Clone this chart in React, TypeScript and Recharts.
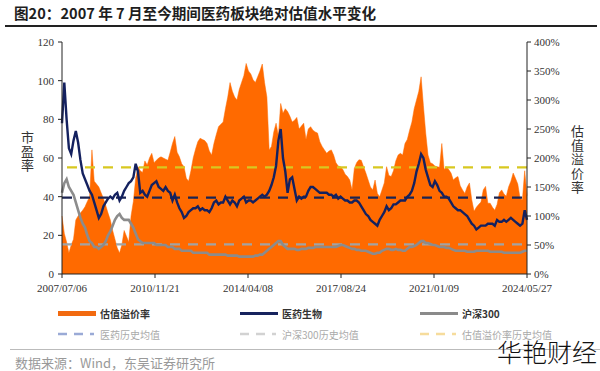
import { ComposedChart, Area, Line, XAxis, YAxis, ReferenceLine } from "recharts"

// monthly samples, 2007/07 .. 2024/05
const pharmaPE = [
  78, 99, 80, 65, 62, 69, 74, 68, 59, 52,
  49, 46, 43, 41, 37, 33, 29, 31, 35, 37,
  39, 40, 39, 41, 42, 38, 40, 43, 45, 47,
  48, 50, 57, 53, 42, 43, 41, 40, 43, 46,
  47, 48, 45, 44, 43, 45, 43, 42, 38, 41,
  37, 34, 32, 29, 30, 32, 33, 34, 34, 35,
  33, 34, 33, 33, 32, 34, 37, 38, 36, 37,
  37, 40, 38, 36, 38, 37, 35, 38, 39, 40,
  37, 38, 38, 37, 38, 39, 40, 41, 40, 41,
  43, 46, 50, 56, 69, 75, 60, 53, 42, 49,
  50, 44, 38, 40, 39, 40, 40, 43, 45, 45,
  44, 43, 42, 42, 42, 42, 41, 41, 40, 41,
  39, 40, 39, 38, 38, 37, 37, 38, 38, 37,
  35, 33, 31, 30, 28, 27, 26, 25, 28, 30,
  32, 35, 33, 34, 36, 36, 37, 38, 38, 38,
  40, 41, 43, 47, 53, 57, 62, 60, 54, 50,
  46, 45, 48, 46, 43, 42, 40, 40, 39, 37,
  35, 34, 33, 33, 32, 31, 30, 28, 26, 25,
  23, 24, 25, 25, 25, 26, 26, 26, 25, 28,
  27, 27, 28, 27, 28, 29, 28, 27, 26, 25,
  26, 33, 28,
]

const hs300PE = [
  42, 47, 49, 45, 43, 41, 37, 33, 29, 26,
  24, 20, 17, 16, 14, 14, 13, 14, 15, 17,
  20, 22, 25, 28, 30, 31, 29, 28, 28, 28,
  26, 24, 21, 18, 17, 16, 16, 16, 16, 16,
  16, 15, 15, 15, 15, 15, 14, 14, 14, 13,
  13, 13, 12, 12, 12, 12, 12, 11, 11, 11,
  11, 11, 11, 11, 10, 10, 10, 10, 10, 10,
  10, 10, 9.5, 9.5, 9.5, 9.5, 9.5, 9, 9, 9,
  9, 9, 9, 9, 9.5, 9.5, 10, 10, 11, 12,
  13, 14, 15, 16, 17, 17, 15, 14, 13, 13,
  13, 13, 12.5, 12.5, 13, 13, 13, 13.5, 13.5, 13.5,
  14, 14, 14, 14, 14, 14, 14, 14, 14, 14,
  14.5, 15, 15, 14.5, 14, 13.5, 13, 13, 12.5, 12.5,
  12, 12, 12, 11.5, 11, 10.5, 10.5, 11, 11, 12,
  12.5, 13, 13, 12.5, 12.5, 13, 12.5, 12.5, 12, 12,
  13, 14, 14, 14.5, 15, 16, 17, 17, 16, 16,
  15.5, 15, 15, 14.5, 14, 14, 14, 13.5, 13.5, 13,
  12.5, 12, 12, 12, 12, 12, 11.5, 11.5, 11.5, 11.5,
  12, 12, 12, 12, 12, 12, 11.5, 11.5, 11.5, 11.5,
  11.5, 11.5, 11, 11, 11, 11, 11, 11, 11, 11,
  11.5, 12, 12,
]

// 估值溢价率, %
const premium = [
  100, 70, 55, 36, 50, 60, 93, 100, 105, 110,
  116, 125, 133, 214, 160, 155, 150, 140, 130, 118,
  105, 93, 75, 60, 45, 36, 50, 75, 65, 55,
  100, 125, 165, 185, 178, 175, 195, 188, 200, 208,
  192, 196, 200, 202, 200, 198, 196, 210, 225, 237,
  210, 202, 190, 185, 165, 160, 178, 200, 215, 228,
  234, 232, 230, 225, 212, 205, 225, 240, 254, 258,
  262, 285, 305, 330, 315, 305, 300, 318, 330, 342,
  363, 350, 345, 335, 330, 340, 350, 362, 330, 305,
  214, 220, 245, 260, 238, 294, 277, 285, 280, 272,
  262, 265, 270, 250, 255, 260, 232, 250, 254, 248,
  245, 243, 228, 220, 214, 208, 212, 214, 205, 192,
  186, 185, 180, 172, 168, 162, 145, 182, 192, 197,
  196, 185, 174, 162, 150, 145, 162, 139, 133, 145,
  157, 185, 170, 168, 178, 195, 205, 208, 205, 225,
  232, 248, 262, 285, 300, 315, 340, 290, 243, 205,
  192, 190, 186, 185, 184, 225, 180, 185, 180, 174,
  162, 166, 168, 152, 145, 139, 150, 157, 128, 108,
  115, 120, 124, 145, 151, 122, 122, 115, 110, 120,
  140, 145, 138, 134, 150, 160, 174, 165, 155, 130,
  128, 178, 135,
]

const dateLabels = ["2007/07/06", "2010/11/21", "2014/04/08", "2017/08/24", "2021/01/09", "2024/05/27"]
const leftTicks = [0, 20, 40, 60, 80, 100, 120]
const rightTicks = [0, 50, 100, 150, 200, 250, 300, 350, 400]

const pharmaAvg = 39.5
const hs300Avg = 15.3
const premiumAvg = 184

const data = premium.map((p, i) => ({ idx: i, premium: p, pharma: pharmaPE[i], hs300: hs300PE[i] }))
const last = data.length - 1
const xTicks = dateLabels.map((_, k) => (k * last) / (dateLabels.length - 1))

const serif = "'Liberation Serif', 'Times New Roman', serif"
const cjk = "'Noto Sans CJK SC', sans-serif"
const tickStyle = { fontSize: 11, fill: "#333", fontFamily: serif }

function Dash({ color }: { color: string }) {
  return (
    <svg width={38} height={6} style={{ display: "block" }}>
      <line x1={0} y1={3} x2={36} y2={3} stroke={color} strokeWidth={2.5} strokeDasharray="9 7" />
    </svg>
  )
}

function Solid({ color, h }: { color: string; h: number }) {
  return <div style={{ width: 38, height: h, background: color }} />
}

const legendRow1 = [
  { x: 58, label: "估值溢价率", swatch: <Solid color="#f26a10" h={5} /> },
  { x: 240, label: "医药生物", swatch: <Solid color="#17235e" h={3} /> },
  { x: 420, label: "沪深300", swatch: <Solid color="#8a8a8a" h={3} /> },
]
const legendRow2 = [
  { x: 58, label: "医药历史均值", swatch: <Dash color="#9aaad6" /> },
  { x: 240, label: "沪深300历史均值", swatch: <Dash color="#d2d2d2" /> },
  { x: 420, label: "估值溢价率历史均值", swatch: <Dash color="#f6dc9c" /> },
]

export default function App() {
  return (
    <div style={{ position: "absolute", left: 0, top: 0, width: 600, height: 371, background: "#fff", overflow: "hidden", fontFamily: cjk }}>
      <div style={{ position: "absolute", left: 14, top: 2, fontSize: 14.6, fontWeight: 700, color: "#1e1e1e", whiteSpace: "nowrap" }}>
        图20：2007 年 7 月至今期间医药板块绝对估值水平变化
      </div>
      <div style={{ position: "absolute", left: 5, top: 25, width: 592, height: 1.5, background: "#222" }} />

      <div style={{ position: "absolute", left: 0, top: 0 }}>
        <ComposedChart width={600} height={300} data={data} margin={{ top: 42, right: 0, bottom: 0, left: 0 }}>
          <XAxis
            dataKey="idx"
            type="number"
            domain={[0, last]}
            ticks={xTicks}
            tickFormatter={(v: number) => dateLabels[Math.round((v / last) * (dateLabels.length - 1))]}
            tick={tickStyle}
            tickSize={4}
            tickMargin={6}
            height={26}
            stroke="#222"
          />
          <YAxis
            yAxisId="left"
            domain={[0, 120]}
            ticks={leftTicks}
            width={62}
            tick={tickStyle}
            tickSize={4}
            tickMargin={4}
            stroke="#222"
          />
          <YAxis
            yAxisId="right"
            orientation="right"
            domain={[0, 400]}
            ticks={rightTicks}
            width={73}
            tick={tickStyle}
            tickSize={4}
            tickMargin={3}
            tickFormatter={(v: number) => `${v}%`}
            stroke="#222"
          />
          <Area
            yAxisId="right"
            dataKey="premium"
            type="linear"
            fill="#ff6a00"
            fillOpacity={1}
            stroke="#ff6a00"
            strokeWidth={0.5}
            isAnimationActive={false}
          />
          <ReferenceLine yAxisId="left" y={hs300Avg} stroke="#a3a3a3" strokeWidth={2.2} strokeDasharray="10 8" />
          <ReferenceLine yAxisId="left" y={pharmaAvg} stroke="#1b2452" strokeWidth={2.2} strokeDasharray="10 8" />
          <ReferenceLine yAxisId="right" y={premiumAvg} stroke="#d8c820" strokeWidth={2.2} strokeDasharray="10 8" />
          <Line yAxisId="left" dataKey="hs300" type="linear" stroke="#8c8c8c" strokeWidth={2.6} dot={false} isAnimationActive={false} />
          <Line yAxisId="left" dataKey="pharma" type="linear" stroke="#14215f" strokeWidth={2.4} dot={false} isAnimationActive={false} />
        </ComposedChart>
      </div>

      <div style={{ position: "absolute", left: 18, top: 152, transform: "translateY(-50%)", writingMode: "vertical-rl", fontSize: 13, color: "#333", letterSpacing: 1 }}>
        市盈率
      </div>
      <div style={{ position: "absolute", left: 568, top: 160, transform: "translateY(-50%)", writingMode: "vertical-rl", fontSize: 13, color: "#333", letterSpacing: 1 }}>
        估值溢价率
      </div>

      {legendRow1.map((it) => (
        <div key={it.label} style={{ position: "absolute", left: it.x, top: 305, height: 16, display: "flex", alignItems: "center", gap: 4 }}>
          {it.swatch}
          <span style={{ fontSize: 10, color: "#333", fontWeight: 700 }}>{it.label}</span>
        </div>
      ))}
      {legendRow2.map((it) => (
        <div key={it.label} style={{ position: "absolute", left: it.x, top: 326, height: 16, display: "flex", alignItems: "center", gap: 4 }}>
          {it.swatch}
          <span style={{ fontSize: 10, color: "#aaa" }}>{it.label}</span>
        </div>
      ))}

      <div style={{ position: "absolute", left: 10, top: 349, width: 590, height: 1, background: "#bbb" }} />
      <div style={{ position: "absolute", left: 15, top: 355, fontSize: 13, lineHeight: "16px", color: "#999", whiteSpace: "nowrap" }}>
        数据来源：Wind，东吴证券研究所
      </div>
      <div style={{ position: "absolute", left: 497, top: 335, fontSize: 25, color: "#111", fontWeight: 300, whiteSpace: "nowrap", lineHeight: "32px" }}>
        华艳财经
      </div>
    </div>
  )
}
